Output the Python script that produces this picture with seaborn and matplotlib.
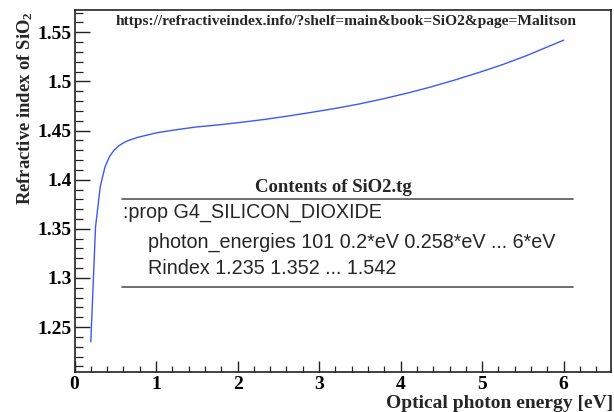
import numpy as np
import pandas as pd
import matplotlib
matplotlib.use("Agg")
import matplotlib.pyplot as plt
import seaborn as sns
from matplotlib.ticker import MultipleLocator, FixedLocator, FixedFormatter
from matplotlib.lines import Line2D

# ---------------- data ----------------
energy_ev = [0.2, 0.258, 0.316, 0.374, 0.432, 0.49, 0.548, 0.606, 0.664, 0.78,
             0.896, 1.012, 1.244, 1.476, 1.766, 2.056, 2.346, 2.636, 2.926, 3.216,
             3.506, 3.796, 4.086, 4.376, 4.666, 4.956, 5.246, 5.536, 5.826, 6.0]
rindex = [1.235, 1.352, 1.393, 1.413, 1.424, 1.4305, 1.4348, 1.4378, 1.4400, 1.4432,
          1.4455, 1.4478, 1.4508, 1.4535, 1.4558, 1.4585, 1.4615, 1.4650, 1.4688, 1.4728,
          1.4773, 1.4825, 1.4882, 1.4945, 1.5015, 1.5090, 1.5170, 1.5260, 1.5360, 1.542]

x_ticks = [0, 1, 2, 3, 4, 5, 6]
x_tick_labels = ["0", "1", "2", "3", "4", "5", "6"]
y_ticks = [1.25, 1.30, 1.35, 1.40, 1.45, 1.50, 1.55]
y_tick_labels = ["1.25", "1.3", "1.35", "1.4", "1.45", "1.5", "1.55"]

x_label = "Optical photon energy [eV]"
y_label = "Refractive index of SiO$_2$"
url_text = "https://refractiveindex.info/?shelf=main&book=SiO2&page=Malitson"
table_title = "Contents of SiO2.tg"
table_lines = [":prop G4_SILICON_DIOXIDE",
               "photon_energies 101 0.2*eV 0.258*eV ... 6*eV",
               "Rindex 1.235 1.352 ... 1.542"]

# ---------------- style ----------------
sns.set_theme(style="white")
plt.rcParams["font.family"] = ["Liberation Serif", "DejaVu Serif"]
plt.rcParams["font.weight"] = "bold"
plt.rcParams["mathtext.fontset"] = "custom"
plt.rcParams["mathtext.rm"] = "Liberation Serif:bold"
plt.rcParams["mathtext.it"] = "Liberation Serif:bold"
plt.rcParams["mathtext.bf"] = "Liberation Serif:bold"

W, H = 614, 412
fig = plt.figure(figsize=(W / 100, H / 100), dpi=100)
fig.patch.set_facecolor("white")

AX_L, AX_R, AX_T, AX_B = 74.5, 611.0, 10.0, 372.0
ax = fig.add_axes([AX_L / W, 1 - AX_B / H, (AX_R - AX_L) / W, (AX_B - AX_T) / H])
ax.set_facecolor("white")

def fx(px):
    return px / W

def fy(py):
    return 1 - py / H

df = pd.DataFrame({"energy": energy_ev, "n": rindex})
sns.lineplot(data=df, x="energy", y="n", ax=ax, color="#3a58ff", linewidth=1.0,
             estimator=None, sort=False)

ax.set_xlim(0, 6.58)
ax.set_ylim(1.2043, 1.5727)

ax.xaxis.set_major_locator(FixedLocator(x_ticks))
ax.xaxis.set_major_formatter(FixedFormatter(x_tick_labels))
ax.yaxis.set_major_locator(FixedLocator(y_ticks))
ax.yaxis.set_major_formatter(FixedFormatter(y_tick_labels))
ax.xaxis.set_minor_locator(MultipleLocator(0.2))
ax.yaxis.set_minor_locator(MultipleLocator(0.01))

ax.tick_params(which="both", direction="in", top=False, right=False,
               bottom=True, left=True, colors="#222222", labelcolor="black")
ax.tick_params(axis="x", which="major", length=8, width=1.0, labelsize=14, pad=3)
ax.tick_params(axis="x", which="minor", length=4, width=0.9)
ax.tick_params(axis="y", which="major", length=11, width=1.0, labelsize=14, pad=2)
ax.tick_params(axis="y", which="minor", length=5.8, width=0.9)
for lbl in ax.get_xticklabels() + ax.get_yticklabels():
    lbl.set_fontweight("bold")
    lbl.set_family(["Liberation Serif", "DejaVu Serif"])

for sp in ax.spines.values():
    sp.set_color("#222222")
    sp.set_linewidth(1.2)
ax.grid(False)

# axis titles
ax.set_xlabel(x_label, fontsize=14, fontweight="bold", ha="right", va="center")
ax.xaxis.set_label_coords((613 - AX_L) / (AX_R - AX_L), (AX_B - 403) / (AX_B - AX_T))
ax.set_ylabel(y_label, fontsize=13.4, fontweight="bold", ha="center", va="center")
ax.yaxis.set_label_coords((25 - AX_L) / (AX_R - AX_L), (AX_B - 108) / (AX_B - AX_T))

# header url
t_url = fig.text(fx(346), fy(22), url_text, ha="center", va="center",
                 fontsize=10, fontweight="bold", family=["Liberation Serif", "DejaVu Serif"])

# table-like annotation box
t_title = fig.text(fx(333), fy(187), table_title, ha="center", va="center",
                   fontsize=12, fontweight="bold", family=["Liberation Serif", "DejaVu Serif"])
for yy in (199, 287):
    fig.add_artist(Line2D([fx(122), fx(573)], [fy(yy), fy(yy)], transform=fig.transFigure,
                          color="#555555", linewidth=1.2))
sans = ["Liberation Sans", "DejaVu Sans"]
t1 = fig.text(fx(123), fy(213), table_lines[0], ha="left", va="center",
              fontsize=12, fontweight="normal", family=sans)
t2 = fig.text(fx(148), fy(242), table_lines[1], ha="left", va="center",
              fontsize=12, fontweight="normal", family=sans)
t3 = fig.text(fx(148), fy(268), table_lines[2], ha="left", va="center",
              fontsize=12, fontweight="normal", family=sans)

# scale font sizes so that text widths match the reference
def fit_width(txt, target_px):
    fig.canvas.draw()
    r = fig.canvas.get_renderer()
    w = txt.get_window_extent(r).width
    if w > 0:
        txt.set_fontsize(txt.get_fontsize() * target_px / w)

fit_width(t_url, 462)
fit_width(t_title, 156)
fit_width(t2, 407)
for t in (t1, t3):
    t.set_fontsize(t2.get_fontsize())

fig.savefig("out.png", dpi=100, facecolor="white")
